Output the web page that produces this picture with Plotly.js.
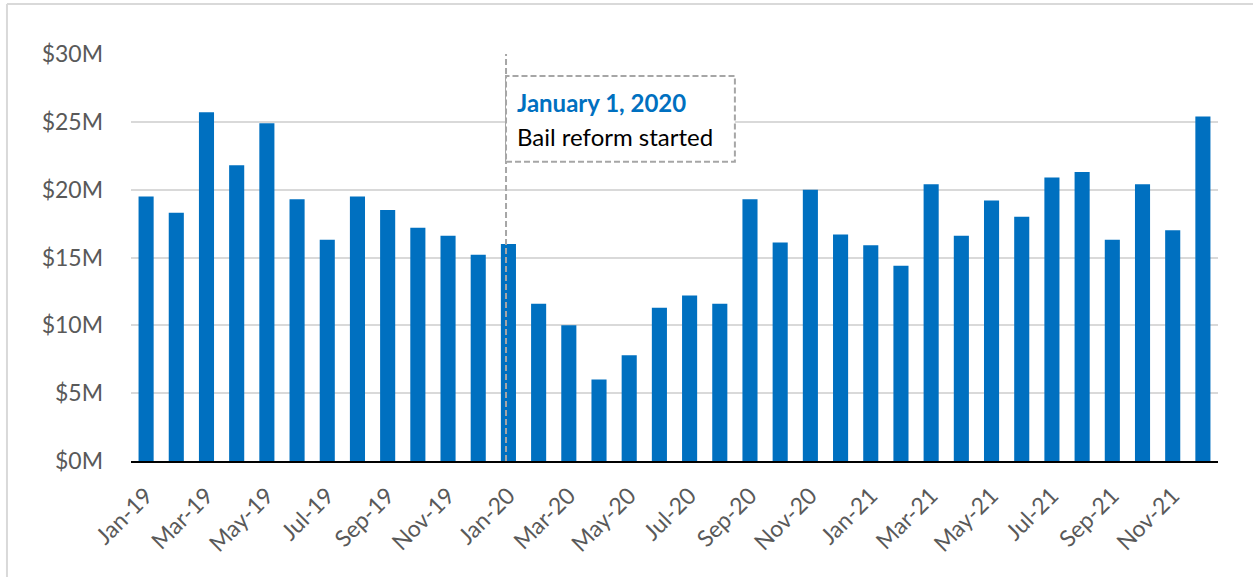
<!DOCTYPE html>
<html>
<head>
<meta charset="utf-8">
<script src="https://cdn.plot.ly/plotly-3.0.1.min.js"></script>
<style>html,body{margin:0;padding:0;background:#fff;}#chart{width:1253px;height:577px;}</style>
</head>
<body>
<div id="chart"></div>
<script>
const months = ["Jan-19","Feb-19","Mar-19","Apr-19","May-19","Jun-19","Jul-19","Aug-19","Sep-19","Oct-19","Nov-19","Dec-19",
"Jan-20","Feb-20","Mar-20","Apr-20","May-20","Jun-20","Jul-20","Aug-20","Sep-20","Oct-20","Nov-20","Dec-20",
"Jan-21","Feb-21","Mar-21","Apr-21","May-21","Jun-21","Jul-21","Aug-21","Sep-21","Oct-21","Nov-21","Dec-21"];
const values = [19.5,18.3,25.7,21.8,24.9,19.3,16.3,19.5,18.5,17.2,16.6,15.2,
16.0,11.6,10.0,6.0,7.8,11.3,12.2,11.6,19.3,16.1,20.0,16.7,
15.9,14.4,20.4,16.6,19.2,18.0,20.9,21.3,16.3,20.4,17.0,25.4];
const tickLabels = months.filter((m,i)=>i%2===0);
const yTickVals = [0,5,10,15,20,25,30];
const yTickText = ["$0M","$5M","$10M","$15M","$20M","$25M","$30M"];
const annoTitle = "January 1, 2020";
const annoText = "Bail reform started";

const trace = {
  type:'bar', x: months, y: values,
  marker:{color:'#0070c0'}, hoverinfo:'x+y'
};
const layout = {
  width:1253, height:577,
  margin:{l:131, r:35, t:54, b:116},
  paper_bgcolor:'#fff', plot_bgcolor:'#fff',
  bargap:0.5,
  showlegend:false,
  font:{family:'Lato, "Open Sans", sans-serif', color:'#595959'},
  xaxis:{
    type:'category', tickmode:'array', tickvals:tickLabels, ticktext:tickLabels,
    tickangle:-45, tickfont:{size:23, color:'#595959'},
    showgrid:false, showline:true, linecolor:'#000', linewidth:2, ticks:'', zeroline:false,
    ticklabelstandoff:10
  },
  yaxis:{
    range:[0,30], tickvals:yTickVals, ticktext:yTickText,
    tickfont:{size:23, color:'#595959'},
    showgrid:true, gridcolor:'#d9d9d9', gridwidth:2, zeroline:false, showline:false,
    ticklabelstandoff:27
  },
  shapes:[
    {type:'line', xref:'x', yref:'y', x0:11.92, x1:11.92, y0:0, y1:30, line:{color:'#a6a6a6', width:2, dash:'6px,3px'}},
    {type:'rect', xref:'x', yref:'y', x0:11.92, x1:19.5, y0:22.06, y1:28.38, fillcolor:'#fff', line:{color:'#a6a6a6', width:2, dash:'6px,3px'}},
    {type:'line', xref:'paper', yref:'paper', x0:-0.1141, x1:1.05, y0:1.1229, y1:1.1229, line:{color:'#d9d9d9', width:2}},
    {type:'line', xref:'paper', yref:'paper', x0:-0.1141, x1:-0.1141, y0:1.1229, y1:-0.3, line:{color:'#d9d9d9', width:2}}
  ],
  annotations:[
    {xref:'x', yref:'y', x:12.22, y:26.39, xanchor:'left', yanchor:'middle', showarrow:false,
     text:'<b>'+annoTitle+'</b>', font:{size:24, color:'#0070c0', family:'Lato, sans-serif'}},
    {xref:'x', yref:'y', x:12.22, y:23.95, xanchor:'left', yanchor:'middle', showarrow:false,
     text:annoText, font:{size:24, color:'#000', family:'Lato, sans-serif'}}
  ]
};
Plotly.newPlot('chart',[trace],layout,{displayModeBar:false, staticPlot:true});
</script>
</body>
</html>
